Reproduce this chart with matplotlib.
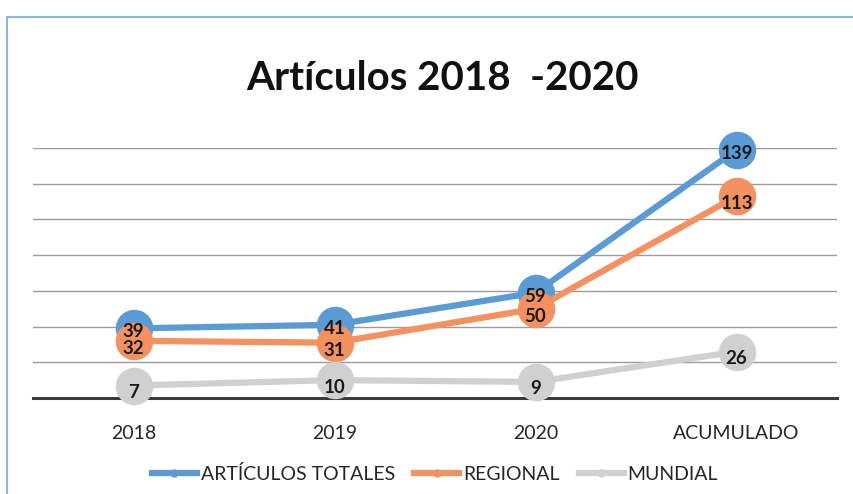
import matplotlib
matplotlib.use("Agg")
import matplotlib.pyplot as plt
from matplotlib.patches import Rectangle
from matplotlib.lines import Line2D

categories = ["2018", "2019", "2020", "ACUMULADO"]
totales = [39, 41, 59, 139]
regional = [32, 31, 50, 113]
mundial = [7, 10, 9, 26]
series_names = ["ARTÍCULOS TOTALES", "REGIONAL", "MUNDIAL"]
title = "Artículos 2018  -2020"

colors = ["#5B9BD5", "#F4915E", "#D0D0D0"]

plt.rcParams['font.family'] = ['Lato', 'DejaVu Sans']

W, H = 854, 494
fig = plt.figure(figsize=(W / 100, H / 100), dpi=100)
fig.patch.set_facecolor("white")

# outer frame
fig.patches.append(Rectangle((7 / W, -0.05), 1.1, (H - 17) / H + 0.05, transform=fig.transFigure,
                             fill=False, edgecolor="#8FB6E0", linewidth=1.5))

ax = fig.add_axes([33 / W, 96 / H, (837 - 33) / W, 250 / H])
ax.set_facecolor("none")
x = list(range(len(categories)))

ax.set_xlim(-0.5, len(categories) - 0.5)
ax.set_ylim(0, 140)
ax.set_yticks(range(0, 141, 20))
ax.yaxis.grid(True, color="#9C9C9C", linewidth=1.0)
ax.set_axisbelow(True)
for s in ["top", "right", "left"]:
    ax.spines[s].set_visible(False)
ax.spines["bottom"].set_color("#3A3A3A")
ax.spines["bottom"].set_linewidth(2.2)
ax.tick_params(axis="y", left=False, labelleft=False)
ax.tick_params(axis="x", bottom=False, pad=16)
ax.set_xticks(x)
ax.set_xticklabels(categories, fontsize=14, color="#262626")

all_series = [totales, regional, mundial]
for vals, col, name in zip(all_series, colors, series_names):
    ax.plot(x, vals, color=col, linewidth=4.5, marker="o", markersize=27,
            markeredgewidth=0, label=name, solid_capstyle="round", zorder=3,
            clip_on=False)

offsets = [-2.5, -5.5, -5]
for vals, off in zip(all_series, offsets):
    for xi, v in zip(x, vals):
        ax.annotate(str(v), (xi, v), xytext=(0, off), textcoords="offset points",
                    ha="center", va="center", fontsize=13.5, fontweight="bold",
                    color="#1A1A1A", zorder=5)

fig.text(442 / W, 1 - 78 / H, title, ha="center", va="center",
         fontsize=29, fontweight="bold", color="#111111")

handles = [Line2D([0], [0], color=c, linewidth=4.5, marker="o", markersize=6,
                  markeredgewidth=0) for c in colors]
fig.legend(handles, series_names, loc="center", bbox_to_anchor=(435 / W, 1 - 474 / H),
           ncol=3, frameon=False, fontsize=14, handlelength=2.3, handletextpad=0.2,
           columnspacing=1.0, labelcolor="#262626")

fig.savefig("out.png", dpi=100, facecolor="white")
